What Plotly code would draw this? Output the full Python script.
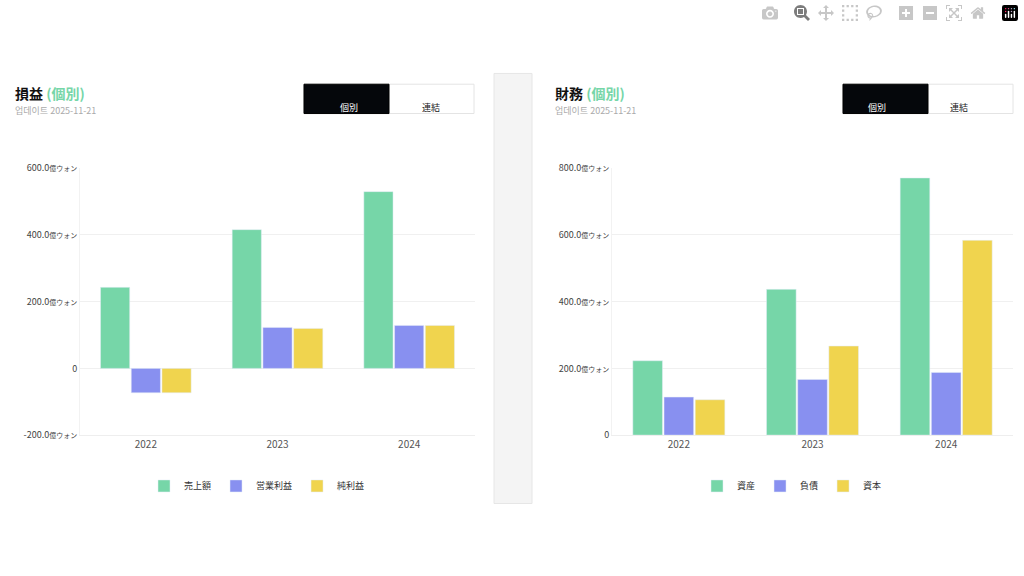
import plotly.graph_objects as go

W, H = 1024, 576
GREEN = "#76d6a8"
BLUE = "#8890f0"
YELLOW = "#f0d44e"

years = ["2022", "2023", "2024"]
pl_names = ["売上額", "営業利益", "純利益"]
pl_values = [
    [243, 416, 530],
    [-73, 123, 129],
    [-73, 120, 129],
]
bs_names = ["資産", "負債", "資本"]
bs_values = [
    [223, 437, 771],
    [114, 167, 188],
    [106, 267, 584],
]
pl_ticks = [-200, 0, 200, 400, 600]
bs_ticks = [0, 200, 400, 600, 800]
colors = [GREEN, BLUE, YELLOW]


def px(x):
    return x / W


def py(y):
    return 1 - y / H


def tick_label(v):
    if v == 0:
        return "0"
    return f"{v:.1f}<span style='font-size:7px'>億ウォン</span>"


fig = go.Figure()
for i in range(3):
    fig.add_trace(go.Bar(x=years, y=pl_values[i], name=pl_names[i], marker_color=colors[i],
                         xaxis="x", yaxis="y", legend="legend"))
for i in range(3):
    fig.add_trace(go.Bar(x=years, y=bs_values[i], name=bs_names[i], marker_color=colors[i],
                         xaxis="x2", yaxis="y2", legend="legend2"))

ax = dict(showgrid=False, showline=True, linecolor="#eeeeee", ticks="",
          tickfont=dict(size=10, color="#555"))
ay = dict(gridcolor="#f0f0f0", zeroline=False, showline=True, linecolor="#f2f2f2",
          tickfont=dict(size=9, color="#444"))

shapes = [
    dict(type="rect", xref="paper", yref="paper", x0=px(494), x1=px(532), y0=py(508), y1=py(68),
         fillcolor="#f4f4f4", line=dict(color="#e6e6e6", width=1), layer="below"),
]
annotations = []
for left, title, btn in [(13, "損益", 304), (553, "財務", 843)]:
    annotations.append(dict(x=px(left), y=py(88), xref="paper", yref="paper", xanchor="left",
                            yanchor="middle", showarrow=False,
                            text=f"<b>{title} <span style='color:{GREEN}'>(個別)</span></b>",
                            font=dict(size=14, color="#111")))
    annotations.append(dict(x=px(left), y=py(106), xref="paper", yref="paper", xanchor="left",
                            yanchor="middle", showarrow=False, text="업데이트 2025-11-21",
                            font=dict(size=9, color="#aaa")))
    shapes.append(dict(type="rect", xref="paper", yref="paper", x0=px(btn), x1=px(btn + 170),
                       y0=py(109), y1=py(79), line=dict(color="#e4e4e4", width=1),
                       fillcolor="white"))
    shapes.append(dict(type="rect", xref="paper", yref="paper", x0=px(btn), x1=px(btn + 85),
                       y0=py(109), y1=py(79), line=dict(color="#000", width=1),
                       fillcolor="#05070b"))
    annotations.append(dict(x=px(btn + 45), y=py(94), xref="paper", yref="paper",
                            showarrow=False, text="個別", font=dict(size=9, color="white")))
    annotations.append(dict(x=px(btn + 127), y=py(94), xref="paper", yref="paper",
                            showarrow=False, text="連結", font=dict(size=9, color="#222")))

fig.update_layout(
    width=W, height=H, margin=dict(l=0, r=0, t=0, b=0),
    paper_bgcolor="white", plot_bgcolor="white",
    font=dict(family="Noto Sans CJK JP, Noto Sans, sans-serif"),
    barmode="group", bargap=0.3, bargroupgap=0.05,
    xaxis=dict(ax, domain=[px(80), px(475)], anchor="y"),
    yaxis=dict(ay, domain=[py(438), py(165)], range=[-200, 600], tickvals=pl_ticks,
               ticktext=[tick_label(v) for v in pl_ticks], anchor="x"),
    xaxis2=dict(ax, domain=[px(612), px(1013)], anchor="y2"),
    yaxis2=dict(ay, domain=[py(438), py(165)], range=[0, 800], tickvals=bs_ticks,
                ticktext=[tick_label(v) for v in bs_ticks], anchor="x2"),
    legend=dict(orientation="h", x=px(257), y=py(490), xanchor="center", yanchor="middle",
                font=dict(size=9, color="#333")),
    legend2=dict(orientation="h", x=px(792), y=py(490), xanchor="center", yanchor="middle",
                 font=dict(size=9, color="#333")),
    shapes=shapes, annotations=annotations,
)

# ページ余白をなくして1024x576にぴったり収める
fig.write_html("out.html", post_script="document.body.style.margin='0';"
               "document.body.style.overflow='hidden';")
